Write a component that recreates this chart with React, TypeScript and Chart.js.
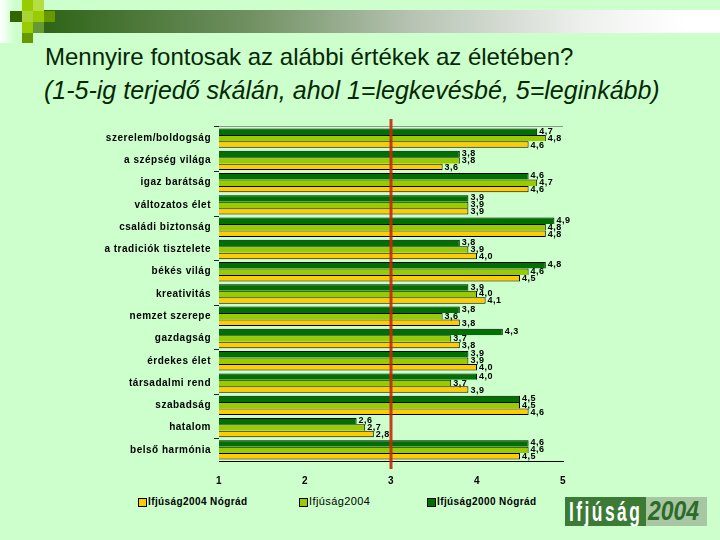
import React, { useEffect, useRef } from 'react';
import { Chart, registerables } from 'chart.js';

Chart.register(...registerables);

const categories = [
  'szerelem/boldogság',
  'a szépség világa',
  'igaz barátság',
  'változatos élet',
  'családi biztonság',
  'a tradiciók tisztelete',
  'békés világ',
  'kreativitás',
  'nemzet szerepe',
  'gazdagság',
  'érdekes élet',
  'társadalmi rend',
  'szabadság',
  'hatalom',
  'belső harmónia',
];
const ifjusag2000Nograd = [4.7, 3.8, 4.6, 3.9, 4.9, 3.8, 4.8, 3.9, 3.8, 4.3, 3.9, 4.0, 4.5, 2.6, 4.6];
const ifjusag2004 = [4.8, 3.8, 4.7, 3.9, 4.8, 3.9, 4.6, 4.0, 3.6, 3.7, 3.9, 3.7, 4.5, 2.7, 4.6];
const ifjusag2004Nograd = [4.6, 3.6, 4.6, 3.9, 4.8, 4.0, 4.5, 4.1, 3.8, 3.8, 4.0, 3.9, 4.6, 2.8, 4.5];
const xTicks = [1, 2, 3, 4, 5];
const referenceValue = 3;

const seriesNames = ['Ifjúság2000 Nógrád', 'Ifjúság2004', 'Ifjúság2004 Nógrád'];
const seriesColors = ['#007000', '#99cc00', '#ffcc00'];
const seriesValues = [ifjusag2000Nograd, ifjusag2004, ifjusag2004Nograd];

const FONT = "'Liberation Sans', Arial, sans-serif";

const extrasPlugin = {
  id: 'extras',
  beforeDraw(chart: any) {
    try {
      chart.ctx.letterSpacing = '0.5px';
    } catch (e) {}
  },
  afterDatasetsDraw(chart: any) {
    const ctx = chart.ctx;
    const area = chart.chartArea;
    const xs = chart.scales.x;
    ctx.save();
    // top frame line
    ctx.strokeStyle = '#8a9a8a';
    ctx.lineWidth = 1;
    ctx.beginPath();
    ctx.moveTo(area.left, area.top - 0.5);
    ctx.lineTo(area.right, area.top - 0.5);
    ctx.stroke();
    // reference line at 3
    const rx = xs.getPixelForValue(referenceValue);
    ctx.strokeStyle = 'rgba(200,40,10,0.9)';
    ctx.lineWidth = 3;
    ctx.beginPath();
    ctx.moveTo(rx, area.top - 8);
    ctx.lineTo(rx, area.bottom + 8);
    ctx.stroke();
    // data labels
    ctx.fillStyle = '#000';
    ctx.font = `bold 9px ${FONT}`;
    ctx.textBaseline = 'middle';
    ctx.textAlign = 'left';
    chart.data.datasets.forEach((ds: any, i: number) => {
      const meta = chart.getDatasetMeta(i);
      meta.data.forEach((bar: any, j: number) => {
        const v = ds.data[j];
        const txt = v.toFixed(1).replace('.', ',');
        ctx.fillText(txt, bar.x + 2, bar.y + (i - 1) * 0.5);
      });
    });
    ctx.restore();
  },
};

function ChartCanvas() {
  const ref = useRef<HTMLCanvasElement | null>(null);
  useEffect(() => {
    if (!ref.current) return;
    const chart = new Chart(ref.current, {
      type: 'bar',
      data: {
        labels: categories,
        datasets: seriesValues.map((vals, i) => ({
          label: seriesNames[i],
          data: vals,
          backgroundColor: seriesColors[i],
          borderColor: '#000',
          borderWidth: i === 2 ? 1 : { top: 1, left: 1, right: 1, bottom: 0 },
          borderSkipped: false,
          categoryPercentage: 0.87,
          barPercentage: 1,
        })),
      },
      options: {
        indexAxis: 'y',
        animation: false,
        responsive: false,
        devicePixelRatio: 1,
        layout: { padding: { top: 127, right: 157, left: 0, bottom: 0 } },
        plugins: {
          legend: { display: false },
          tooltip: { enabled: false },
        },
        scales: {
          y: {
            type: 'category',
            offset: true,
            grid: {
              offset: true,
              drawOnChartArea: false,
              drawTicks: true,
              tickLength: 5,
              color: (c: any) => (c.index % 2 === 0 ? '#222' : 'rgba(0,0,0,0)'),
            },
            border: { display: false },
            ticks: {
              color: '#000',
              padding: 3,
              font: { family: FONT, size: 10, weight: 'bold' },
            },
            afterFit: (s: any) => {
              s.width = 219;
            },
          },
          x: {
            type: 'linear',
            min: xTicks[0],
            max: xTicks[xTicks.length - 1],
            grid: { display: false, drawTicks: false },
            border: { display: true, color: '#000', width: 1 },
            afterBuildTicks: (s: any) => {
              s.ticks = xTicks.map((v) => ({ value: v }));
            },
            ticks: {
              color: '#000',
              padding: 14,
              font: { family: FONT, size: 10, weight: 'bold' },
            },
            afterFit: (s: any) => {
              s.height = 30;
            },
          },
        },
      } as any,
      plugins: [extrasPlugin],
    });
    return () => chart.destroy();
  }, []);
  return (
    <canvas
      ref={ref}
      width={720}
      height={491}
      style={{ position: 'absolute', left: 0, top: 0, width: 720, height: 491 }}
    />
  );
}

const legendOrder = [2, 1, 0];
const legendBoxX = [138, 299, 427];

export default function App() {
  const sq = (x: number, y: number, w: number, h: number, c: string) => (
    <div style={{ position: 'absolute', left: x, top: y, width: w, height: h, background: c }} />
  );
  return (
    <div
      style={{
        position: 'fixed',
        left: 0,
        top: 0,
        width: 720,
        height: 540,
        overflow: 'hidden',
        background: '#ccffcc',
        fontFamily: FONT,
      }}
    >
      {/* header decoration */}
      <div
        style={{
          position: 'absolute',
          left: 0,
          top: 0,
          width: 15,
          height: 43,
          background: 'linear-gradient(to right, #ffffff, #ccffcc)',
        }}
      />
      <div
        style={{
          position: 'absolute',
          left: 44,
          top: 10,
          width: 676,
          height: 23,
          background: 'linear-gradient(to right, #2f6418 0%, #6f8f60 30%, #b8c4b4 55%, #eef0ee 80%, #ffffff 95%)',
        }}
      />
      {sq(10, 11, 12, 11, '#336600')}
      {sq(22, 0, 11, 11, '#99cc00')}
      {sq(33, 0, 11, 11, '#b5dd44')}
      {sq(22, 11, 11, 11, '#aad433')}
      {sq(33, 11, 11, 11, '#99cc00')}
      {sq(44, 11, 11, 11, '#669900')}
      {sq(22, 22, 11, 11, '#99cc00')}
      {sq(33, 22, 11, 11, '#669933')}
      {sq(22, 33, 11, 10, '#669900')}

      {/* title */}
      <div
        style={{
          position: 'absolute',
          left: 45,
          top: 43,
          fontSize: 24,
          lineHeight: '28px',
          color: '#062806',
          whiteSpace: 'nowrap',
        }}
      >
        Mennyire fontosak az alábbi értékek az életében?
      </div>
      <div
        style={{
          position: 'absolute',
          left: 44,
          top: 76,
          fontSize: 25,
          lineHeight: '28px',
          fontStyle: 'italic',
          color: '#062806',
          whiteSpace: 'nowrap',
        }}
      >
        (1-5-ig terjedő skálán, ahol 1=legkevésbé, 5=leginkább)
      </div>

      <ChartCanvas />

      {/* legend */}
      {legendOrder.map((si, k) => (
        <div key={si}>
          <div
            style={{
              position: 'absolute',
              left: legendBoxX[k],
              top: 498,
              width: 7,
              height: 7,
              background: seriesColors[si],
              border: '1px solid #000',
            }}
          />
          <div
            style={{
              position: 'absolute',
              left: legendBoxX[k] + 10,
              top: si === 1 ? 494 : 495,
              fontSize: si === 1 ? 11 : 10,
              lineHeight: '14px',
              fontWeight: si === 1 ? 'normal' : 'bold',
              letterSpacing: '0.4px',
              color: '#000',
              whiteSpace: 'nowrap',
            }}
          >
            {seriesNames[si]}
          </div>
        </div>
      ))}

      {/* logo */}
      <div
        style={{
          position: 'absolute',
          left: 565,
          top: 497,
          width: 81,
          height: 29,
          background: '#3b7b35',
          color: '#ffffff',
          fontWeight: 'bold',
          fontSize: 28,
          lineHeight: '29px',
          overflow: 'hidden',
        }}
      >
        <span
          style={{
            display: 'inline-block',
            transform: 'scaleX(0.62)',
            transformOrigin: 'left center',
            letterSpacing: '4px',
            marginLeft: 4,
          }}
        >
          Ifjúság
        </span>
      </div>
      <div
        style={{
          position: 'absolute',
          left: 646,
          top: 497,
          width: 61,
          height: 29,
          background: '#a9c6a2',
          color: '#2c6b2a',
          fontWeight: 'bold',
          fontStyle: 'italic',
          fontSize: 27,
          lineHeight: '29px',
          overflow: 'hidden',
        }}
      >
        <span
          style={{
            display: 'inline-block',
            transform: 'scaleX(0.85)',
            transformOrigin: 'left center',
            marginLeft: 2,
          }}
        >
          2004
        </span>
      </div>
    </div>
  );
}
